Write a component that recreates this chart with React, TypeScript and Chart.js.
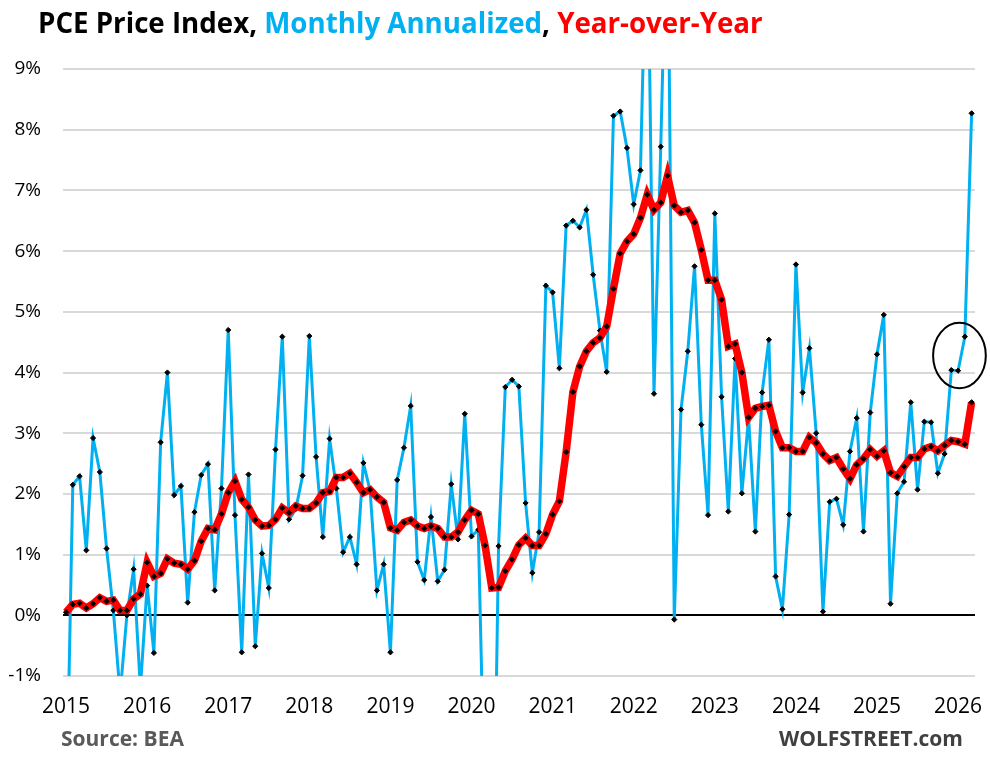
import React, { useEffect, useRef } from "react";
import { Chart, registerables } from "chart.js";

Chart.register(...registerables);

// Year labels (one tick per January), monthly data from Jan 2015 to Mar 2026
const yearLabels = ["2015", "2016", "2017", "2018", "2019", "2020", "2021", "2022", "2023", "2024", "2025", "2026"];

// PCE price index, month-over-month change annualized (%)
const monthlyAnnualized = [
  -3.5, 2.15, 2.29, 1.07, 2.92, 2.36, 1.10, 0.08, -1.3, 0.0, 0.76, -1.2,
  0.49, -0.62, 2.85, 4.0, 1.98, 2.13, 0.21, 1.70, 2.31, 2.49, 0.41, 2.09,
  4.70, 1.65, -0.61, 2.32, -0.51, 1.02, 0.45, 2.73, 4.59, 1.58, 1.75, 2.3,
  4.60, 2.61, 1.29, 2.91, 2.09, 1.04, 1.29, 0.84, 2.51, 2.05, 0.41, 0.84,
  -0.61, 2.23, 2.76, 3.45, 0.88, 0.58, 1.62, 0.56, 0.75, 2.16, 1.25, 3.32,
  1.30, 1.41, -3.4, -6.0, 1.14, 3.76, 3.88, 3.77, 1.85, 0.70, 1.37, 5.43,
  5.32, 4.07, 6.42, 6.50, 6.39, 6.68, 5.61, 4.69, 4.01, 8.23, 8.30, 7.70,
  6.77, 7.33, 12.0, 3.65, 7.72, 12.2, -0.07, 3.39, 4.35, 5.75, 3.14, 1.65,
  6.62, 3.60, 1.71, 4.23, 2.01, 3.25, 1.38, 3.67, 4.54, 0.64, 0.10, 1.66,
  5.78, 3.67, 4.40, 3.00, 0.06, 1.87, 1.92, 1.49, 2.70, 3.25, 1.38, 3.34,
  4.30, 4.95, 0.19, 2.01, 2.20, 3.51, 2.07, 3.19, 3.18, 2.34, 2.66, 4.04,
  4.03, 4.59, 8.27,
];

// PCE price index, year-over-year change (%)
const yearOverYear = [
  0.05, 0.18, 0.20, 0.12, 0.19, 0.29, 0.23, 0.25, 0.08, 0.08, 0.27, 0.35,
  0.87, 0.64, 0.69, 0.93, 0.86, 0.84, 0.76, 0.90, 1.22, 1.43, 1.41, 1.67,
  2.02, 2.21, 1.91, 1.78, 1.57, 1.47, 1.48, 1.58, 1.77, 1.69, 1.80, 1.76,
  1.76, 1.85, 2.02, 2.04, 2.27, 2.27, 2.34, 2.19, 2.02, 2.07, 1.95, 1.86,
  1.44, 1.40, 1.53, 1.57, 1.47, 1.43, 1.47, 1.43, 1.29, 1.29, 1.37, 1.57,
  1.73, 1.67, 1.15, 0.45, 0.46, 0.73, 0.92, 1.16, 1.27, 1.15, 1.15, 1.34,
  1.66, 1.88, 2.69, 3.68, 4.10, 4.35, 4.49, 4.57, 4.76, 5.38, 5.96, 6.16,
  6.28, 6.55, 6.93, 6.68, 6.80, 7.24, 6.75, 6.64, 6.67, 6.47, 6.02, 5.52,
  5.52, 5.20, 4.43, 4.47, 4.00, 3.26, 3.41, 3.44, 3.46, 3.03, 2.76, 2.76,
  2.70, 2.70, 2.93, 2.84, 2.66, 2.55, 2.60, 2.41, 2.25, 2.48, 2.58, 2.73,
  2.62, 2.71, 2.35, 2.29, 2.45, 2.60, 2.60, 2.74, 2.78, 2.71, 2.80, 2.88,
  2.86, 2.82, 3.51,
];

// Hand-drawn ellipse around the last few monthly readings (month index, % value, radii)
const noteCenter = { month: 132.2, value: 4.28 };
const noteRadius = { months: 3.9, value: 0.54 };

const BLUE = "#00B0F0";
const RED = "#FF0000";
const FONT = "'Open Sans', 'DejaVu Sans', sans-serif";

export default function App() {
  const canvasRef = useRef<HTMLCanvasElement>(null);

  useEffect(() => {
    if (!canvasRef.current) return;

    const ellipsePlugin = {
      id: "noteEllipse",
      afterDatasetsDraw(chart: any) {
        const { ctx, scales } = chart;
        const x = scales.x;
        const y = scales.y;
        const cx = x.getPixelForValue(noteCenter.month);
        const cy = y.getPixelForValue(noteCenter.value);
        const rx = Math.abs(x.getPixelForValue(noteCenter.month + noteRadius.months) - cx);
        const ry = Math.abs(y.getPixelForValue(noteCenter.value + noteRadius.value) - cy);
        ctx.save();
        ctx.beginPath();
        ctx.ellipse(cx, cy, rx, ry, 0, 0, Math.PI * 2);
        ctx.lineWidth = 2;
        ctx.strokeStyle = "#000";
        ctx.stroke();
        ctx.restore();
      },
    };

    const toPoints = (arr: number[]) => arr.map((v, i) => ({ x: i, y: v }));

    const chart = new Chart(canvasRef.current, {
      type: "line",
      data: {
        datasets: [
          {
            label: "Year-over-Year",
            data: toPoints(yearOverYear),
            borderColor: RED,
            borderWidth: 7.5,
            pointStyle: "rectRot",
            pointRadius: 2.6,
            pointBackgroundColor: "#000",
            pointBorderColor: "#000",
            pointBorderWidth: 1,
            tension: 0,
            order: 0,
          },
          {
            label: "Monthly Annualized",
            data: toPoints(monthlyAnnualized),
            borderColor: BLUE,
            borderWidth: 3,
            pointStyle: "rectRot",
            pointRadius: 2.6,
            pointBackgroundColor: "#000",
            pointBorderColor: "#000",
            pointBorderWidth: 1,
            tension: 0,
            order: 1,
          },
        ],
      },
      options: {
        animation: false,
        responsive: true,
        maintainAspectRatio: false,
        layout: { padding: { top: 69, right: 15, bottom: 41, left: 0 } },
        plugins: {
          legend: { display: false },
          tooltip: { enabled: false },
          title: { display: false },
        },
        scales: {
          x: {
            type: "linear",
            min: -0.45,
            max: 134.5,
            grid: { display: false },
            border: { display: false },
            afterBuildTicks: (scale: any) => {
              scale.ticks = yearLabels.map((_, k) => ({ value: k * 12 }));
            },
            afterFit: (scale: any) => {
              scale.height = 40;
              scale.paddingLeft = 0;
              scale.paddingRight = 0;
            },
            ticks: {
              autoSkip: false,
              maxRotation: 0,
              padding: 10,
              color: "#000",
              font: { family: FONT, size: 21 },
              callback: (v: any) => yearLabels[Math.round(Number(v) / 12)] ?? "",
            },
          },
          y: {
            min: -1,
            max: 9,
            afterFit: (scale: any) => {
              scale.width = 63;
            },
            border: { display: false },
            grid: {
              drawTicks: false,
              lineWidth: 2,
              color: (ctx: any) => (ctx.tick && ctx.tick.value === 0 ? "#000" : "#d9d9d9"),
            },
            ticks: {
              stepSize: 1,
              padding: 22,
              color: "#000",
              font: { family: FONT, size: 19 },
              callback: (v: any) => `${v}%`,
            },
          },
        },
      },
      plugins: [ellipsePlugin],
    } as any);

    return () => chart.destroy();
  }, []);

  return (
    <div style={{ position: "absolute", left: 0, top: 0, width: 990, height: 757, background: "#fff", overflow: "hidden" }}>
      <div style={{ position: "absolute", left: 0, top: 0, width: 990, height: 757 }}>
        <canvas ref={canvasRef} />
      </div>
      <div
        style={{
          position: "absolute",
          left: 38,
          top: 8,
          fontFamily: FONT,
          fontWeight: 700,
          fontSize: 27.7,
          lineHeight: "28px",
          whiteSpace: "nowrap",
          color: "#000",
        }}
      >
        PCE Price Index, <span style={{ color: BLUE }}>Monthly Annualized</span>, <span style={{ color: RED }}>Year-over-Year</span>
      </div>
      <div
        style={{
          position: "absolute",
          left: 61,
          top: 728,
          fontFamily: FONT,
          fontWeight: 700,
          fontSize: 21,
          lineHeight: "21px",
          color: "#595959",
          whiteSpace: "nowrap",
        }}
      >
        Source: BEA
      </div>
      <div
        style={{
          position: "absolute",
          right: 27,
          top: 728,
          fontFamily: FONT,
          fontWeight: 700,
          fontSize: 21,
          lineHeight: "21px",
          color: "#404040",
          whiteSpace: "nowrap",
        }}
      >
        WOLFSTREET.com
      </div>
    </div>
  );
}
